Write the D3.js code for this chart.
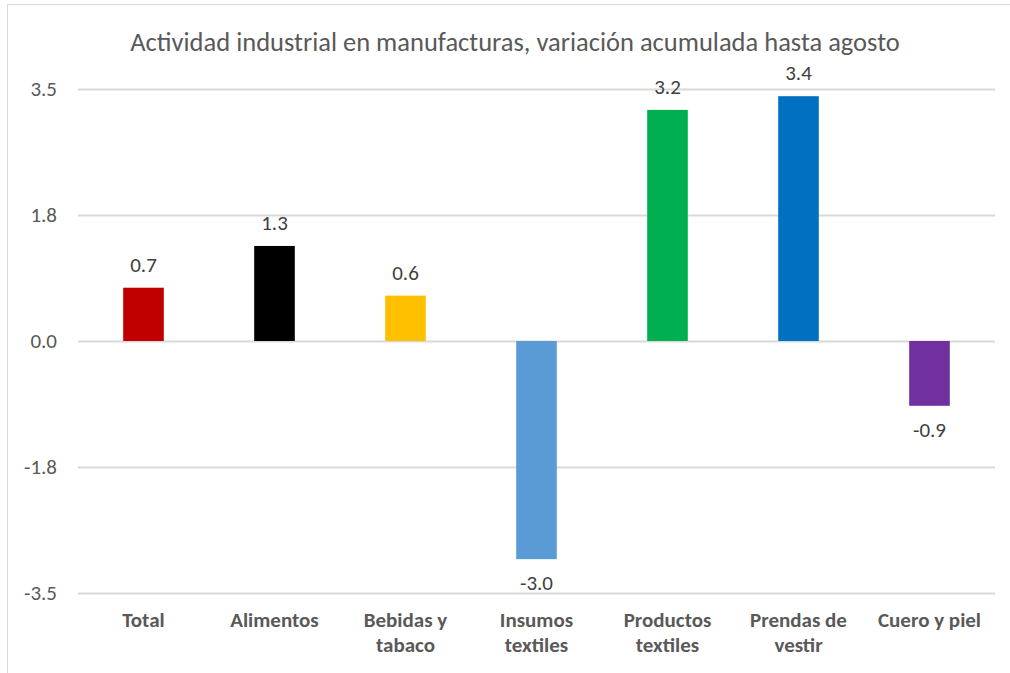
<!DOCTYPE html>
<html>
<head>
<meta charset="utf-8">
<script src="https://cdn.jsdelivr.net/npm/d3@7"></script>
<style>
  body { margin: 0; background: #fff; }
  svg text { font-family: Carlito, "Liberation Sans Narrow", "Open Sans", sans-serif; }
</style>
</head>
<body>
<div id="chart"></div>
<script>
// chart data
const categories = ["Total", "Alimentos", "Bebidas y\ntabaco", "Insumos\ntextiles", "Productos\ntextiles", "Prendas de\nvestir", "Cuero y piel"];
const values = [0.74, 1.32, 0.63, -3.03, 3.21, 3.40, -0.90];
const barColors = ["#C00000", "#000000", "#FFC000", "#5B9BD5", "#00B050", "#0070C0", "#7030A0"];
const tickValues = [3.5, 1.75, 0, -1.75, -3.5];
const title = "Actividad industrial en manufacturas, variación acumulada hasta agosto";

const width = 1010, height = 673;
const margin = { top: 89, right: 15, bottom: 80, left: 78 };

// one decimal, plain hyphen for negatives
const fmt = d => d3.format(".1f")(d).replace("\u2212", "-");

const svg = d3.select("#chart").append("svg")
    .attr("width", width)
    .attr("height", height);

// chart area border
svg.append("rect")
    .attr("x", 7.5).attr("y", 4.5)
    .attr("width", width + 20).attr("height", height + 20)
    .attr("fill", "#fff")
    .attr("stroke", "#d9d9d9");

const x = d3.scaleBand()
    .domain(d3.range(categories.length))
    .range([margin.left, width - margin.right])
    .paddingInner(0.69)
    .paddingOuter(0.345);

const y = d3.scaleLinear()
    .domain([-3.5, 3.5])
    .range([height - margin.bottom, margin.top]);

// gridlines
svg.append("g")
    .selectAll("line")
    .data(tickValues)
    .enter().append("line")
    .attr("x1", margin.left)
    .attr("x2", width - margin.right)
    .attr("y1", d => Math.round(y(d)) + 0.5)
    .attr("y2", d => Math.round(y(d)) + 0.5)
    .attr("stroke", "#d9d9d9")
    .attr("stroke-width", 2);

// y tick labels
svg.append("g")
    .selectAll("text")
    .data(tickValues)
    .enter().append("text")
    .attr("x", 57)
    .attr("y", d => y(d))
    .attr("dy", "0.35em")
    .attr("text-anchor", "end")
    .attr("fill", "#595959")
    .style("font-size", "21px")
    .text(fmt);

// bars
svg.append("g")
    .selectAll("rect")
    .data(values)
    .enter().append("rect")
    .attr("x", (d, i) => x(i))
    .attr("width", x.bandwidth())
    .attr("y", d => y(Math.max(0, d)))
    .attr("height", d => Math.abs(y(d) - y(0)))
    .attr("fill", (d, i) => barColors[i]);

// value labels
svg.append("g")
    .selectAll("text")
    .data(values)
    .enter().append("text")
    .attr("x", (d, i) => x(i) + x.bandwidth() / 2)
    .attr("y", d => d >= 0 ? y(d) - 16 : y(d) + 31)
    .attr("text-anchor", "middle")
    .attr("fill", "#404040")
    .style("font-size", "21px")
    .text(fmt);

// category labels
const catLabels = svg.append("g")
    .selectAll("text")
    .data(categories)
    .enter().append("text")
    .attr("x", (d, i) => x(i) + x.bandwidth() / 2)
    .attr("y", 627)
    .attr("text-anchor", "middle")
    .attr("fill", "#595959")
    .style("font-size", "21px")
    .style("font-weight", "bold");

catLabels.each(function(d) {
    const t = d3.select(this);
    d.split("\n").forEach((line, k) => {
        t.append("tspan")
            .attr("x", t.attr("x"))
            .attr("dy", k === 0 ? 0 : 25)
            .text(line);
    });
});

// title
svg.append("text")
    .attr("x", 515)
    .attr("y", 51)
    .attr("text-anchor", "middle")
    .attr("fill", "#595959")
    .style("font-size", "26.5px")
    .text(title);
</script>
</body>
</html>
